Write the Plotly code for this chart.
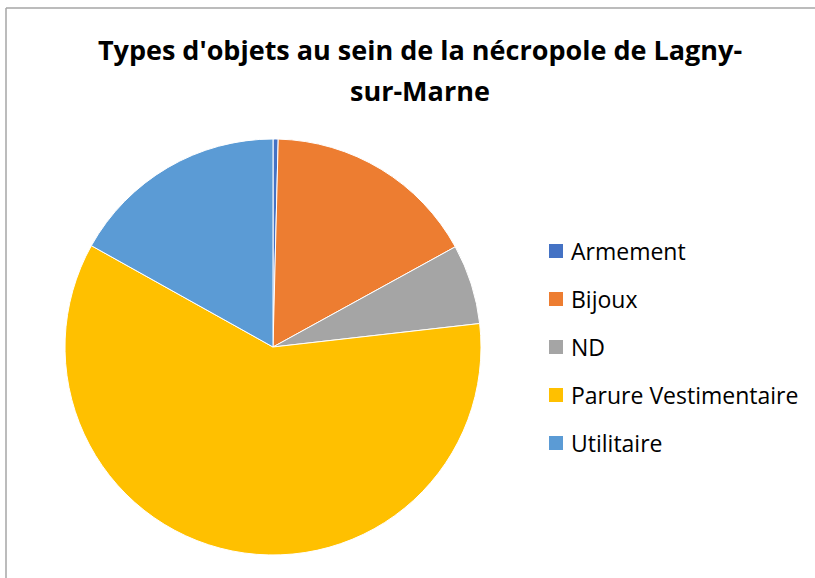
import plotly.graph_objects as go

# categories and share of objects (%)
labels = ["Armement", "Bijoux", "ND", "Parure Vestimentaire", "Utilitaire"]
values = [0.4, 16.6, 6.2, 59.9, 16.9]
colors = ["#4472C4", "#ED7D31", "#A5A5A5", "#FFC000", "#5B9BD5"]
title_lines = ["Types d'objets au sein de la nécropole de Lagny-", "sur-Marne"]

W, H = 815, 578
FONT = "Open Sans, Lato, sans-serif"

fig = go.Figure()
fig.add_trace(go.Pie(
    labels=labels, values=values,
    marker=dict(colors=colors, line=dict(color="white", width=1)),
    sort=False, direction="clockwise", rotation=0,
    textinfo="none", hoverinfo="label+percent",
    showlegend=False,
    domain=dict(x=[65 / W, 481 / W], y=[(H - 555) / H, (H - 139) / H]),
))

# chart border (only top and left edges are inside the crop)
border = dict(type="line", xref="paper", yref="paper", line=dict(color="#A6A6A6", width=1.5))
shapes = [
    dict(border, x0=6 / W, x1=1, y0=(H - 8) / H, y1=(H - 8) / H),
    dict(border, x0=6 / W, x1=6 / W, y0=0, y1=(H - 8) / H),
]
annotations = []

# legend drawn by hand so the row spacing matches
for i, (lab, col) in enumerate(zip(labels, colors)):
    yc = 251 + i * 48
    shapes.append(dict(type="rect", xref="paper", yref="paper",
                       x0=549 / W, x1=563 / W,
                       y0=(H - yc - 7) / H, y1=(H - yc + 7) / H,
                       fillcolor=col, line=dict(width=0)))
    annotations.append(dict(text=lab, xref="paper", yref="paper",
                            x=569 / W, y=(H - yc) / H, xanchor="left", yanchor="middle",
                            showarrow=False,
                            font=dict(family=FONT, size=23, color="#000000")))

# second title line (wider line spacing than plotly's default)
annotations.append(dict(text="<b>" + title_lines[1] + "</b>", xref="paper", yref="paper",
                        x=420 / W, y=(H - 91) / H, xanchor="center", yanchor="middle",
                        showarrow=False,
                        font=dict(family=FONT, size=27, color="#000000")))

fig.update_layout(
    width=W, height=H,
    margin=dict(l=0, r=0, t=0, b=0),
    paper_bgcolor="white",
    title=dict(text="<b>" + title_lines[0] + "</b>",
               x=420 / W, xanchor="center", y=(H - 51) / H, yanchor="middle",
               font=dict(family=FONT, size=27, color="#000000")),
    shapes=shapes,
    annotations=annotations,
)

fig.write_html("out.html", config={"displayModeBar": False},
               post_script="document.body.style.margin='0';")
